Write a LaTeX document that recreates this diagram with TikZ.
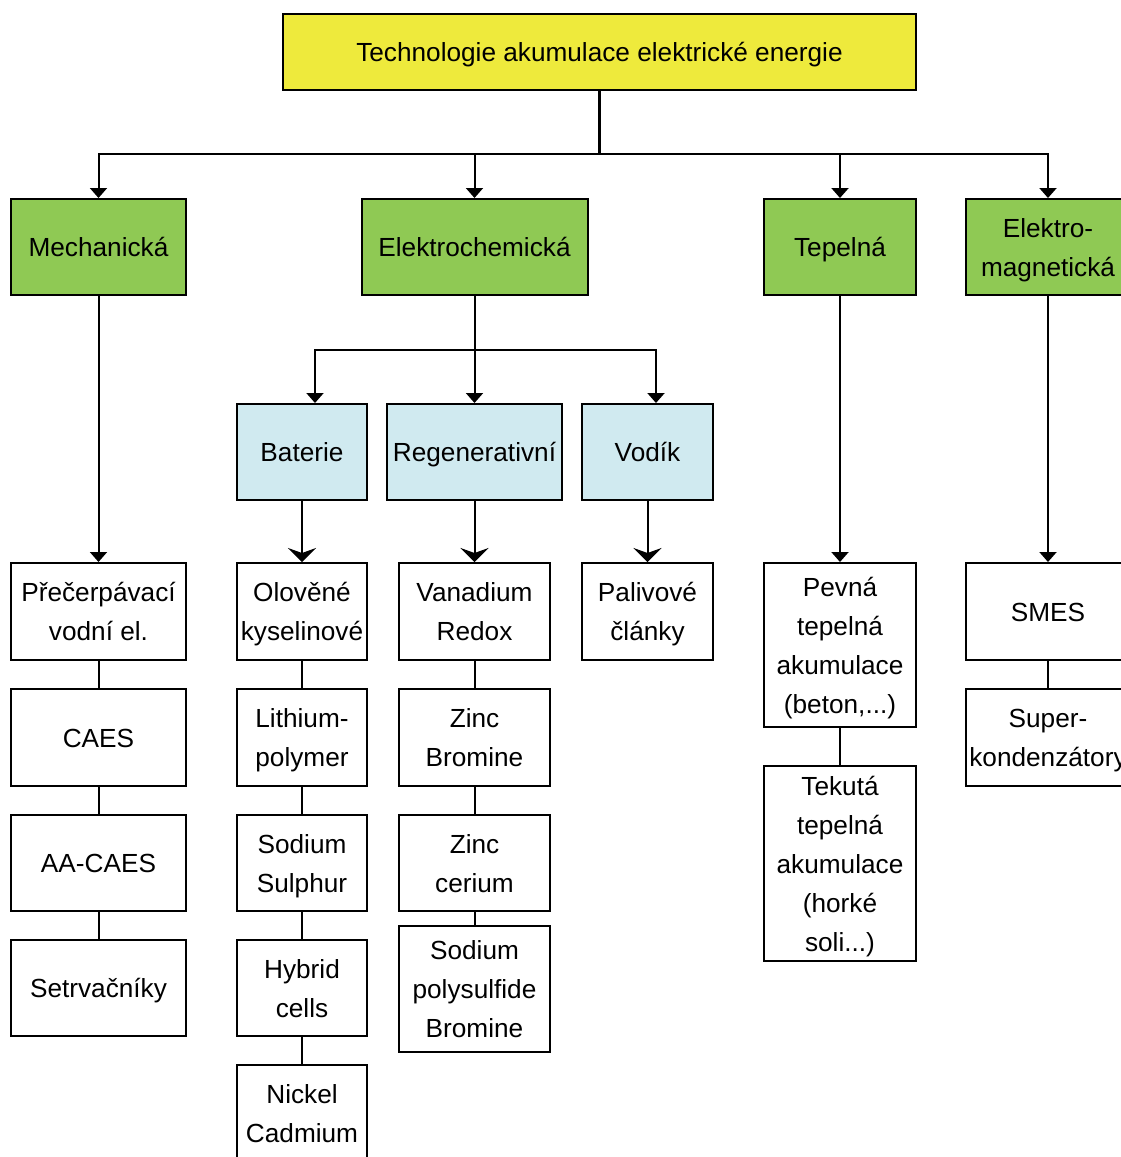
\documentclass[tikz,border=0pt]{standalone}
\usepackage{fontspec}
\setmainfont{Liberation Sans}
\usepackage{xcolor}
\usepackage{tikz}
\usetikzlibrary{positioning, arrows.meta}

\definecolor{topyellow}{RGB}{238,234,60}
\definecolor{catgreen}{RGB}{143,201,84}
\definecolor{subblue}{RGB}{208,234,240}

\begin{document}
\begin{tikzpicture}[
  x=1pt, y=-1pt,
  font=\fontsize{26.2}{39}\selectfont,
  node distance=27pt,
  box/.style={draw, line width=2pt, align=flush center, inner sep=0pt,
              minimum height=96pt,
              execute at begin node={\rule{0pt}{29.3pt}},
              execute at end node={\rule[-9.7pt]{0pt}{9.7pt}}},
  wd/.style={minimum width=#1, text width=#1},
  root/.style   ={box, fill=topyellow, wd=633pt, minimum height=76pt},
  category/.style={box, fill=catgreen},
  subcat/.style ={box, fill=subblue},
  tech/.style   ={box, fill=white},
  flow/.style={-{Triangle[length=10pt,width=17pt]}, line width=2pt},
  subflow/.style={-{Stealth[length=14pt,width=28pt,inset=5pt]}, line width=2pt},
  link/.style={line width=2pt},
]
\useasboundingbox (0,0) rectangle (1121,1157);
\clip (0,0) rectangle (1121,1157);
\fill[white] (0,0) rectangle (1121,1157);

% Root and first level
\node[root] (T) at (599.5,52) {Technologie akumulace elektrické energie};
\node[category, wd=175pt] (M) at (98.5,247) {Mechanická};
\node[category, wd=226pt] (EC) at (474.5,247) {Elektrochemická};
\node[category, wd=152pt] (TP) at (840,247) {Tepelná};
\node[category, wd=164pt] (EM) at (1048,247) {Elektro-\\magnetická};

% Second level under Elektrochemická
\node[subcat, wd=130pt] (B) at (302,452) {Baterie};
\node[subcat, wd=175pt] (R) at (474.5,452) {Regenerativní};
\node[subcat, wd=131pt] (V) at (647.5,452) {Vodík};

% Mechanická column
\node[tech, wd=175pt, minimum height=97pt] (M1) at (98.5,611.5) {Přečerpávací\\vodní el.};
\node[tech, wd=175pt, minimum height=97pt, below=of M1] (M2) {CAES};
\node[tech, wd=175pt, below=of M2] (M3) {AA-CAES};
\node[tech, wd=175pt, below=of M3] (M4) {Setrvačníky};

% Baterie column
\node[tech, wd=130pt, minimum height=97pt] (B1) at (302,611.5) {Olověné\\kyselinové};
\node[tech, wd=130pt, minimum height=97pt, below=of B1] (B2) {Lithium-\\polymer};
\node[tech, wd=130pt, below=of B2] (B3) {Sodium\\Sulphur};
\node[tech, wd=130pt, below=of B3] (B4) {Hybrid\\cells};
\node[tech, wd=130pt, below=of B4] (B5) {Nickel\\Cadmium};

% Regenerativní column
\node[tech, wd=151pt, minimum height=97pt] (R1) at (474.5,611.5) {Vanadium\\Redox};
\node[tech, wd=151pt, minimum height=97pt, below=of R1] (R2) {Zinc\\Bromine};
\node[tech, wd=151pt, below=of R2] (R3) {Zinc\\cerium};
\node[tech, wd=151pt, minimum height=126pt, below=13pt of R3] (R4) {Sodium\\polysulfide\\Bromine};

% Vodík
\node[tech, wd=131pt, minimum height=97pt] (V1) at (647.5,611.5) {Palivové\\články};

% Tepelná column
\node[tech, wd=152pt, minimum height=164pt] (TP1) at (840,645) {Pevná\\tepelná\\akumulace\\(beton,...)};
\node[tech, wd=152pt, minimum height=195pt, below=37pt of TP1] (TP2) {Tekutá\\tepelná\\akumulace\\(horké\\soli...)};

% Elektromagnetická column
\node[tech, wd=164pt, minimum height=97pt] (EM1) at (1048,611.5) {SMES};
\node[tech, wd=164pt, minimum height=97pt, below=of EM1] (EM2) {Super-\\kondenzátory};

% --- Tree from the root ---
\coordinate (hub) at (599.5,154);
\draw[line width=3pt] (T.south) -- (hub);
\foreach \c in {M, EC, TP, EM}
  \draw[flow] (hub) -| (\c.north);

% --- Elektrochemická branches ---
\coordinate (ehub) at (474.5,350);
\draw[link] (EC.south) -- (ehub);
\draw[flow] (ehub) -| ([xshift=13pt]B.north);
\draw[flow] (ehub) -- (R.north);
\draw[flow] (ehub) -| ([xshift=8.5pt]V.north);

% --- Down to the technologies ---
\draw[subflow] (B) -- (B1);
\draw[subflow] (R) -- (R1);
\draw[subflow] (V) -- (V1);
\draw[flow] (M) -- (M1);
\draw[flow] (TP) -- (TP1);
\draw[flow] (EM) -- (EM1);

% --- Chains inside columns ---
\foreach \a/\b in {M1/M2, M2/M3, M3/M4, B1/B2, B2/B3, B3/B4, B4/B5,
                   R1/R2, R2/R3, R3/R4, TP1/TP2, EM1/EM2}
  \draw[link] (\a) -- (\b);

\end{tikzpicture}
\end{document}
